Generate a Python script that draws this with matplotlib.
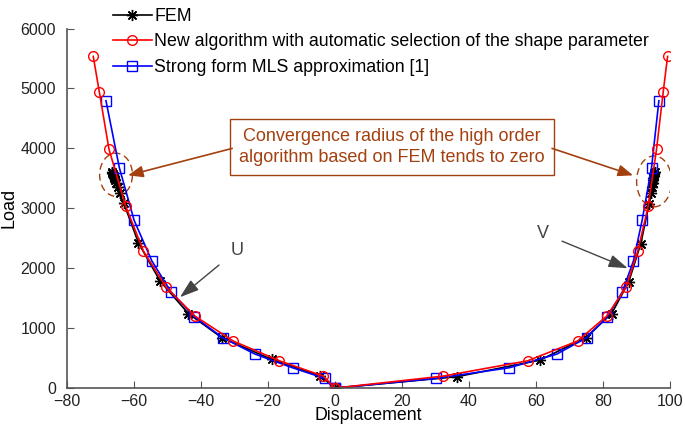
import matplotlib
matplotlib.use("Agg")
import matplotlib.pyplot as plt
from matplotlib.patches import Ellipse

plt.rcParams["font.family"] = ["Liberation Sans", "DejaVu Sans"]

# FEM (black stars)
fem_u_x = [0, -4.5, -18.9, -33.8, -43.8, -52.2, -58.7, -63.1, -64.3, -64.9, -65.3,
           -65.6, -65.9, -66.1, -66.3, -66.5, -66.6]
fem_u_y = [0, 206, 478, 840, 1244, 1783, 2422, 3089, 3250, 3350, 3420,
           3470, 3510, 3545, 3570, 3590, 3605]
fem_v_x = [0, 36.3, 61.2, 74.8, 82.6, 87.7, 91.3, 93.8, 94.3, 94.6, 94.8,
           94.9, 95.0, 95.1, 95.2, 95.3, 95.4]
fem_v_y = [0, 189, 467, 840, 1244, 1772, 2411, 3078, 3250, 3350, 3420,
           3470, 3510, 3545, 3570, 3590, 3605]

# new algorithm (red circles)
new_load = [0, 200, 455, 785, 1200, 1680, 2285, 3035, 3985, 4945, 5535]
new_u_x = [0, -3.5, -16.6, -30.4, -41.8, -50.4, -57.2, -62.5, -67.5, -70.4, -72.2]
new_v_x = [0, 32.3, 57.5, 72.4, 81.1, 86.9, 90.4, 93.5, 96.0, 98.0, 99.3]

# strong form MLS (blue squares)
mls_load = [0, 161, 339, 567, 839, 1189, 1606, 2122, 2800, 3675, 4795]
mls_u_x = [0, -3.0, -12.7, -23.9, -33.5, -42.0, -49.0, -54.7, -60.0, -64.4, -68.4]
mls_v_x = [0, 30.0, 52.0, 66.2, 75.1, 81.3, 85.8, 89.1, 91.7, 94.5, 96.7]

brown = "#a3400f"
star = (8, 2, 0)

fig = plt.figure(figsize=(6.85, 4.26), dpi=100)
ax = fig.add_axes([0.098, 0.089, 0.88, 0.844])

ax.plot(fem_u_x, fem_u_y, color="black", marker=star, markersize=8, lw=1.2,
        mew=1.0, label="FEM")
ax.plot(fem_v_x, fem_v_y, color="black", marker=star, markersize=8, lw=1.2,
        mew=1.0)
ax.plot(mls_u_x, mls_load, color="blue", marker="s", markersize=7, lw=1.2,
        mfc="none", label="Strong form MLS approximation [1]")
ax.plot(mls_v_x, mls_load, color="blue", marker="s", markersize=7, lw=1.2,
        mfc="none")
ax.plot(new_u_x, new_load, color="red", marker="o", markersize=7, lw=1.2,
        mfc="none", label="New algorithm with automatic selection of the shape parameter")
ax.plot(new_v_x, new_load, color="red", marker="o", markersize=7, lw=1.2,
        mfc="none")

ax.set_xlim(-80, 100)
ax.set_ylim(0, 6000)
ax.set_xticks(range(-80, 101, 20))
ax.set_yticks(range(0, 6001, 1000))
for s in ["top", "right"]:
    ax.spines[s].set_visible(False)
for s in ["left", "bottom"]:
    ax.spines[s].set_color("#555555")
    ax.spines[s].set_linewidth(1.2)
ax.tick_params(direction="in", length=5, color="#555555", labelsize=11.5,
               labelcolor="#222222")
ax.tick_params(axis="y", pad=8)
ax.tick_params(axis="x", pad=4)
ax.set_xlabel("Displacement", fontsize=12.8, labelpad=-1)
ax.set_ylabel("Load", fontsize=13, labelpad=2)

h, l = ax.get_legend_handles_labels()
order = [0, 2, 1]
ax.legend([h[i] for i in order], [l[i] for i in order], loc="upper left",
          bbox_to_anchor=(0.155, 0.998), bbox_transform=fig.transFigure,
          frameon=False, fontsize=12.8, handlelength=2.15, handletextpad=0.15,
          labelspacing=0.48, borderaxespad=0)

# annotation box and arrows
ax.text(17, 4025, "Convergence radius of the high order\nalgorithm based on FEM tends to zero",
        ha="center", va="center", color=brown, fontsize=13, linespacing=1.3,
        bbox=dict(boxstyle="square,pad=0.5", fc="white", ec=brown, lw=1.0))
ax.annotate("", xy=(-61.8, 3550), xytext=(-30.7, 4000),
            arrowprops=dict(arrowstyle="-|>,head_length=0.9,head_width=0.35",
                            color=brown, lw=1.2, shrinkA=0, shrinkB=0))
ax.annotate("", xy=(89.0, 3550), xytext=(64.8, 4000),
            arrowprops=dict(arrowstyle="-|>,head_length=0.9,head_width=0.35",
                            color=brown, lw=1.2, shrinkA=0, shrinkB=0))
ax.add_patch(Ellipse((-65.4, 3560), 9.8, 720, fill=False, ec=brown,
                     ls=(0, (5, 3)), lw=1.0))
ax.add_patch(Ellipse((95.3, 3450), 10.5, 850, fill=False, ec=brown,
                     ls=(0, (5, 3)), lw=1.0))

# U / V labels
ax.annotate("U", xy=(-46.3, 1517), xytext=(-29.3, 2300), fontsize=13,
            color="#444444", ha="center", va="center",
            arrowprops=dict(arrowstyle="-|>,head_length=0.9,head_width=0.3",
                            color="#444444", lw=1.0, shrinkA=8, shrinkB=0))
ax.annotate("V", xy=(87.4, 2000), xytext=(62.1, 2583), fontsize=13,
            color="#444444", ha="center", va="center",
            arrowprops=dict(arrowstyle="-|>,head_length=0.9,head_width=0.3",
                            color="#444444", lw=1.0, shrinkA=8, shrinkB=0))

plt.savefig("out.png", dpi=100)
plt.close()
